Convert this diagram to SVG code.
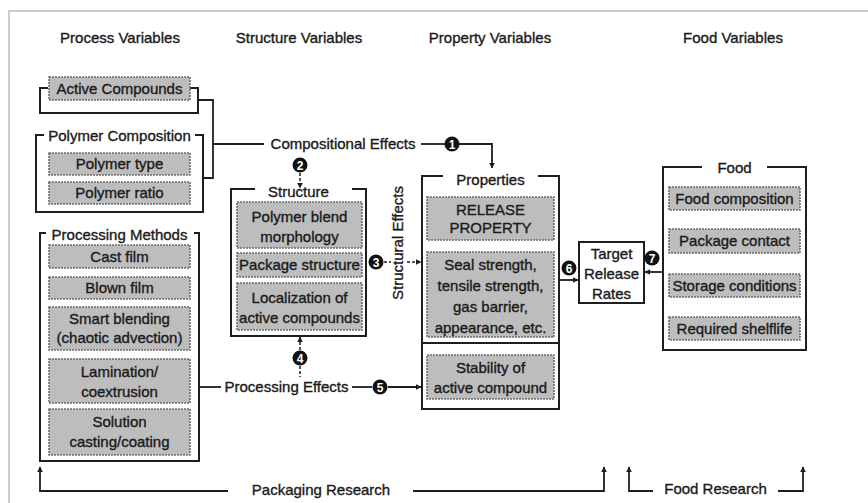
<svg xmlns="http://www.w3.org/2000/svg" width="868" height="503" viewBox="0 0 868 503">
<defs>
<style>
text{font-family:"Liberation Sans",Arial,Helvetica,sans-serif;font-size:15px;fill:#1a1a1a;stroke:#1a1a1a;stroke-width:0.35;text-anchor:middle}
.br{fill:none;stroke:#1e1e1e;stroke-width:2;stroke-linejoin:miter}
.ib{fill:#bdbdbd;stroke:#6e6e6e;stroke-width:1.6;stroke-dasharray:2 1}
.ln{fill:none;stroke:#1e1e1e;stroke-width:1.8}
.dl{fill:none;stroke:#1e1e1e;stroke-width:1.5;stroke-dasharray:3 2}
.num{fill:#111}
text.nt{fill:#fff;stroke:none;font-weight:bold;font-size:12px}
.frame{fill:none;stroke:#bdbdbd;stroke-width:1.5}
</style>
<marker id="ah" viewBox="0 0 10 10" refX="9" refY="5" markerWidth="6" markerHeight="6" orient="auto" markerUnits="userSpaceOnUse">
<path d="M0,0 L10,5 L0,10 z" fill="#1e1e1e"/>
</marker>
</defs>
<rect width="868" height="503" fill="#fff"/>
<path class="frame" d="M9,503 V11 H868"/>

<g id="headers">
<text x="120" y="43">Process Variables</text>
<text x="299" y="43">Structure Variables</text>
<text x="490" y="43">Property Variables</text>
<text x="733" y="43">Food Variables</text>
</g>

<g id="active-compounds">
<path class="br" d="M48,88 H40 V113 H198 V88 H190"/>
<rect class="ib" x="49" y="77" width="141" height="23"/>
<text x="119.5" y="93.5">Active Compounds</text>
</g>

<g id="polymer-composition">
<path class="br" d="M44,135 H36 V212 H203 V135 H195"/>
<text x="119.5" y="140.5">Polymer Composition</text>
<rect class="ib" x="49" y="153" width="141" height="22"/>
<text x="119.5" y="169">Polymer type</text>
<rect class="ib" x="49" y="182" width="141" height="22"/>
<text x="119.5" y="198">Polymer ratio</text>
</g>

<g id="processing-methods">
<path class="br" d="M46,233 H40 V461 H199 V233 H194"/>
<text x="119.5" y="240">Processing Methods</text>
<rect class="ib" x="49" y="245" width="141" height="23"/>
<text x="119.5" y="261.5">Cast film</text>
<rect class="ib" x="49" y="277" width="141" height="22"/>
<text x="119.5" y="293">Blown film</text>
<rect class="ib" x="49" y="307" width="141" height="43"/>
<text x="119.5" y="324">Smart blending</text>
<text x="119.5" y="343">(chaotic advection)</text>
<rect class="ib" x="49" y="359" width="141" height="44"/>
<text x="119.5" y="377">Lamination/</text>
<text x="119.5" y="397">coextrusion</text>
<rect class="ib" x="49" y="409" width="141" height="46"/>
<text x="119.5" y="427">Solution</text>
<text x="119.5" y="447">casting/coating</text>
</g>

<g id="structure">
<path class="br" d="M255,189 H231 V336 H366 V189 H352"/>
<text x="298.5" y="197">Structure</text>
<rect class="ib" x="237" y="202" width="125" height="46"/>
<text x="299.5" y="222">Polymer blend</text>
<text x="299.5" y="242">morphology</text>
<rect class="ib" x="237" y="253" width="125" height="24"/>
<text x="299.5" y="270">Package structure</text>
<rect class="ib" x="237" y="283" width="125" height="47"/>
<text x="299.5" y="303">Localization of</text>
<text x="299.5" y="323">active compounds</text>
</g>

<g id="properties">
<path class="br" d="M443,176 H422 V409 H559 V176 H538"/>
<path class="br" d="M422,343 H559"/>
<text x="490.5" y="185">Properties</text>
<rect class="ib" x="427" y="197" width="127" height="43"/>
<text x="490.5" y="215">RELEASE</text>
<text x="490.5" y="233">PROPERTY</text>
<rect class="ib" x="427" y="252" width="127" height="85"/>
<text x="490.5" y="270">Seal strength,</text>
<text x="490.5" y="291">tensile strength,</text>
<text x="490.5" y="312">gas barrier,</text>
<text x="490.5" y="333">appearance, etc.</text>
<rect class="ib" x="427" y="355" width="127" height="44"/>
<text x="490.5" y="373">Stability of</text>
<text x="490.5" y="393">active compound</text>
</g>

<g id="target-release-rates">
<rect x="579" y="242" width="65" height="61" fill="#fff" stroke="#1e1e1e" stroke-width="2"/>
<text x="611.5" y="259">Target</text>
<text x="611.5" y="279">Release</text>
<text x="611.5" y="299">Rates</text>
</g>

<g id="food">
<path class="br" d="M702,167 H663 V350 H806 V167 H767"/>
<text x="734.5" y="173">Food</text>
<rect class="ib" x="669" y="187" width="131" height="23"/>
<text x="734.5" y="203.5">Food composition</text>
<rect class="ib" x="669" y="229" width="131" height="24"/>
<text x="734.5" y="246">Package contact</text>
<rect class="ib" x="669" y="274" width="131" height="23"/>
<text x="734.5" y="290.5">Storage conditions</text>
<rect class="ib" x="669" y="317" width="131" height="23"/>
<text x="734.5" y="333.5">Required shelflife</text>
</g>

<g id="connectors">
<path class="ln" d="M198,100 H213 V178 H203"/>
<path class="ln" d="M213,144 H264"/>
<text x="343" y="149">Compositional Effects</text>
<path class="ln" d="M421,144 H445"/>
<path class="ln" d="M459,144 H492 V168" marker-end="url(#ah)"/>
<circle class="num" cx="452" cy="144" r="7.5"/>
<text class="nt" x="452" y="148.5">1</text>

<circle class="num" cx="300" cy="165" r="7.5"/>
<text class="nt" x="300" y="169.5">2</text>
<path class="dl" d="M300,173 V188" marker-end="url(#ah)"/>

<circle class="num" cx="376" cy="262" r="7.5"/>
<text class="nt" x="376" y="266.5">3</text>
<path class="dl" d="M384,262 H391"/>
<path class="dl" d="M407,262 H421" marker-end="url(#ah)"/>
<text x="0" y="0" transform="translate(403,243) rotate(-90)">Structural Effects</text>

<path class="ln" d="M199,387 H221"/>
<text x="286.5" y="392">Processing Effects</text>
<path class="ln" d="M352,387 H372"/>
<circle class="num" cx="380" cy="387" r="7.5"/>
<text class="nt" x="380" y="391.5">5</text>
<path class="ln" d="M388,387 H421" marker-end="url(#ah)"/>

<circle class="num" cx="300" cy="358" r="7.5"/>
<text class="nt" x="300" y="362.5">4</text>
<path class="dl" d="M300,350 V337" marker-end="url(#ah)"/>
<path class="dl" d="M300,366 V377"/>

<path class="ln" d="M559,280 H578" marker-end="url(#ah)"/>
<circle class="num" cx="569" cy="268" r="7.5"/>
<text class="nt" x="569" y="272.5">6</text>

<path class="ln" d="M663,272 H645" marker-end="url(#ah)"/>
<circle class="num" cx="652" cy="258" r="7.5"/>
<text class="nt" x="652" y="262.5">7</text>

<path class="ln" d="M228,491 H40 V467" marker-end="url(#ah)"/>
<text x="321" y="495">Packaging Research</text>
<path class="ln" d="M413,491 H604 V467" marker-end="url(#ah)"/>
<path class="ln" d="M653,491 H629 V467" marker-end="url(#ah)"/>
<text x="715.5" y="494">Food Research</text>
<path class="ln" d="M778,491 H803 V467" marker-end="url(#ah)"/>
</g>
</svg>
